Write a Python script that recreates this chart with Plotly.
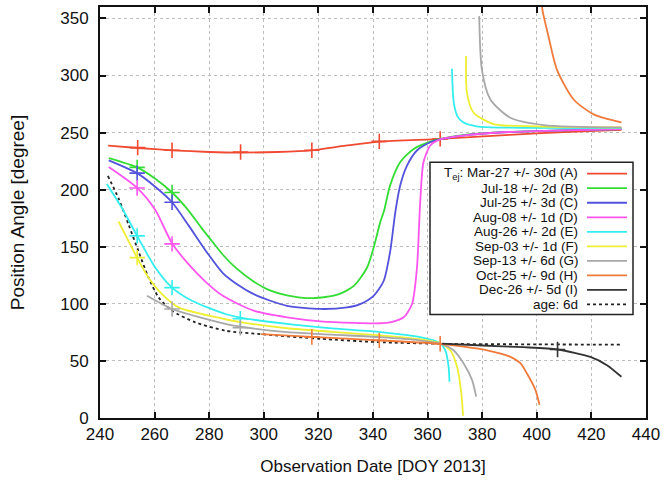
import plotly.graph_objects as go

# ---------------- data ----------------
A_x = [243, 253.8, 266.4, 280, 291.5, 305, 317.6, 330, 342.3, 364.6, 390, 410, 431]
A_y = [238.5, 236.5, 234.5, 233, 232.5, 233, 234.5, 238.5, 242, 244.5, 248, 250.5, 252.5]
A_mx = [253.8, 266.4, 291.5, 317.6, 342.3, 364.6]
A_my = [236.8, 234.5, 233, 234.5, 242.3, 244.5]

B_x = [243.2, 253.6, 260, 266.4, 272, 277, 281, 285, 290, 296, 302, 308.5, 318, 327, 333, 337.8,
       340.2, 342.7, 344, 346.3, 350, 354.9, 361, 364.6, 375, 390, 410, 431]
B_y = [227.6, 219.5, 210, 197.5, 183, 167, 155, 143, 131, 120, 112, 107.5, 105, 108, 115.7, 131.6,
       148.9, 172, 181, 204, 224.2, 235.7, 242.1, 244.5, 248.5, 250.5, 252, 253]
B_mx = [253.6, 266.4]
B_my = [219.5, 197.5]

C_x = [243.2, 253.6, 260, 266.4, 272.5, 278.6, 285, 290.2, 296.3, 302.4, 308.5, 320.7, 330.5, 335.3,
       340.2, 343.9, 346.3, 348.2, 350, 352.5, 356.1, 361, 364.6, 375, 390, 410, 431]
C_y = [225.7, 214.5, 203, 189, 168.5, 147, 127, 117.2, 108.5, 102.7, 98.3, 95.5, 96.9, 99.8,
       107, 120, 146, 180.8, 204, 221.3, 234.3, 241.5, 244, 248, 250.5, 252, 253]
C_mx = [253.6, 266.4]
C_my = [214.5, 189]

D_x = [243.2, 253.6, 260.3, 266.4, 272.5, 278.6, 285, 296.3, 308.5, 320.7, 332.9, 342.7, 346.3,
       351.2, 354.3, 356.1, 357.3, 358.5, 361, 364.6, 375, 390, 410, 431]
D_y = [219.8, 201.5, 182, 153, 134.5, 119.5, 107, 94, 88.2, 84.7, 83.3, 83, 83.8,
       88.2, 99.8, 131.6, 189.5, 224.2, 238.7, 244, 248, 250.5, 252, 253]
D_mx = [253.6, 266.4]
D_my = [201.5, 152.5]

E_x = [242.5, 248.1, 253.6, 260.3, 266.4, 273.7, 285.9, 291.4, 308.5, 325, 342.7, 357.3,
       364.6, 366.5, 367.7, 368]
E_y = [205, 183.7, 159.5, 131.6, 114.2, 102.7, 91.1, 88, 82.4, 78.5, 75.2, 70.8,
       65.6, 59.3, 44.8, 31.8]
E2_x = [368.9, 369.6, 371, 373, 378, 390, 431]
E2_y = [306, 276, 264, 259, 255.5, 254.3, 254]
E_mx = [253.6, 266.4, 291.4]
E_my = [159.5, 114.2, 87]

F_x = [246.8, 250.5, 253.6, 257.8, 262.7, 268.8, 285.9, 291.4, 308.5, 325, 342.7, 357,
       365, 368.3, 370.8, 372.2, 373]
F_y = [172.1, 154.7, 140.3, 122.9, 108.5, 96.9, 86.5, 84, 78.6, 75.5, 72.3, 69,
       65, 59.3, 44.8, 24.6, 2]
F2_x = [374.1, 374.4, 376.8, 384.2, 400, 431]
F2_y = [317, 285, 267.6, 257.4, 255.5, 254.6]
F_mx = [253.6]
F_my = [140.5]

G_x = [257.2, 266.4, 285.9, 291.4, 308.5, 325, 342.7, 357, 365, 369.5, 373.2, 376.3, 377.8]
G_y = [107, 95.5, 82.4, 80, 75.2, 73, 70.8, 68, 65, 59.3, 47.7, 33.2, 18.7]
G2_x = [378.9, 379.9, 383, 390.3, 402.5, 431]
G2_y = [352, 305, 279, 263, 256.6, 254.5]
G_mx = [266.4, 291.4]
G_my = [95.5, 79]

H_x = [299, 317.6, 342.3, 364.6, 369.5, 381.8, 390, 394, 396.4, 399.5, 401]
H_y = [73.5, 71, 68, 65, 63.6, 59.3, 54, 48, 39, 24.6, 11.5]
H2_x = [401.5, 402.1, 404.3, 407.4, 413.5, 420.8, 431]
H2_y = [370, 357, 334, 305, 279, 266, 259]
H_mx = [317.6, 342.3, 364.6]
H_my = [71, 68, 65]

I_x = [365.3, 380, 395, 407.6, 419.6, 425.7, 431]
I_y = [65.1, 63.5, 62, 60, 53.5, 46.3, 36.1]
I_mx = [407.6]
I_my = [60]

AGE_x = [242.9, 246.8, 250.5, 254.1, 257.8, 261.5, 266.4, 274.9, 285.9, 300, 320.7, 341.5,
         365, 400, 431]
AGE_y = [212, 192.3, 169.2, 146, 122.9, 105.5, 94, 83.8, 76.5, 73.2, 69.4, 66.5,
         65, 64.5, 64.2]

legend_labels = ["T<sub>ej</sub>: Mar-27 +/- 30d (A)", "Jul-18 +/- 2d (B)", "Jul-25 +/- 3d (C)",
                 "Aug-08 +/- 1d (D)", "Aug-26 +/- 2d (E)", "Sep-03 +/- 1d (F)",
                 "Sep-13 +/- 6d (G)", "Oct-25 +/- 9d (H)", "Dec-26 +/- 5d (I)", "age: 6d"]

colors = {"A": "#f04a32", "B": "#33dd33", "C": "#5252dc", "D": "#ff55ee", "E": "#33eeee",
          "F": "#eeee33", "G": "#a8a8a8", "H": "#f07a3a", "I": "#333333", "AGE": "#222222"}

FONT = "Liberation Sans, Arial"

# ---------------- figure ----------------
fig = go.Figure()
LW = 1.8

def add_line(x, y, color, dash="solid"):
    fig.add_trace(go.Scatter(x=x, y=y, mode="lines", showlegend=False,
                             line=dict(color=color, width=LW, shape="spline", smoothing=0.7, dash=dash),
                             hoverinfo="skip"))

def add_marks(x, y, color):
    fig.add_trace(go.Scatter(x=x, y=y, mode="markers", showlegend=False,
                             marker=dict(symbol="cross-thin", size=11, line=dict(color=color, width=1.6)),
                             hoverinfo="skip"))

series = [
    ("A", [(A_x, A_y)], (A_mx, A_my)),
    ("B", [(B_x, B_y)], (B_mx, B_my)),
    ("C", [(C_x, C_y)], (C_mx, C_my)),
    ("D", [(D_x, D_y)], (D_mx, D_my)),
    ("E", [(E_x, E_y), (E2_x, E2_y)], (E_mx, E_my)),
    ("F", [(F_x, F_y), (F2_x, F2_y)], (F_mx, F_my)),
    ("G", [(G_x, G_y), (G2_x, G2_y)], (G_mx, G_my)),
    ("H", [(H_x, H_y), (H2_x, H2_y)], (H_mx, H_my)),
    ("I", [(I_x, I_y)], (I_mx, I_my)),
]

add_line(AGE_x, AGE_y, colors["AGE"], dash="dot")
for key, lines, marks in series:
    for (x, y) in lines:
        add_line(x, y, colors[key])
    add_marks(marks[0], marks[1], colors[key])

# ---------------- manual gnuplot-style legend (paper coords) ----------------
ML, MR, MT, MB = 100, 20, 5, 66
W, H = 666, 484
pw, ph = W - ML - MR, H - MT - MB

def px2paper_x(px):
    return (px - ML) / pw

def py2paper_y(py):
    return (H - MB - py) / ph

shapes = []
annotations = []
shapes.append(dict(type="rect", xref="paper", yref="paper",
                   x0=px2paper_x(430), x1=px2paper_x(633),
                   y0=py2paper_y(314), y1=py2paper_y(161),
                   line=dict(color="#222222", width=1.5), fillcolor="white", layer="above"))
keys = ["A", "B", "C", "D", "E", "F", "G", "H", "I", "AGE"]
for i, (lab, k) in enumerate(zip(legend_labels, keys)):
    py = 172.5 + 14.6 * i
    annotations.append(dict(xref="paper", yref="paper", x=px2paper_x(579), y=py2paper_y(py),
                            xanchor="right", yanchor="middle", showarrow=False, text=lab,
                            borderpad=0, valign="middle",
                            font=dict(family=FONT, size=13.5, color="#111")))
    shapes.append(dict(type="line", xref="paper", yref="paper",
                       x0=px2paper_x(587), x1=px2paper_x(627), y0=py2paper_y(py), y1=py2paper_y(py),
                       line=dict(color=colors[k], width=LW, dash="dot" if k == "AGE" else "solid"),
                       layer="above"))

axis_common = dict(showline=True, linecolor="#111", linewidth=2, mirror="ticks",
                   ticks="inside", ticklen=6, tickwidth=2, tickcolor="#111",
                   showgrid=True, gridcolor="#bdbdbd", gridwidth=1, griddash="dot",
                   zeroline=False, tickfont=dict(family=FONT, size=17, color="#111"))

fig.update_layout(
    width=W, height=H,
    margin=dict(l=ML, r=MR, t=MT, b=MB),
    paper_bgcolor="white", plot_bgcolor="white",
    xaxis=dict(range=[240, 440], dtick=20, tick0=240, **axis_common,
               title=dict(text="Observation Date [DOY 2013]", standoff=17,
                          font=dict(family=FONT, size=17, color="#111"))),
    yaxis=dict(range=[0, 360], dtick=50, tick0=0, **axis_common, ticklabelstandoff=6,
               title=dict(text="Position Angle [degree]", standoff=31,
                          font=dict(family=FONT, size=19, color="#111"))),
    shapes=shapes, annotations=annotations, showlegend=False,
)

fig.write_html("out.html")
